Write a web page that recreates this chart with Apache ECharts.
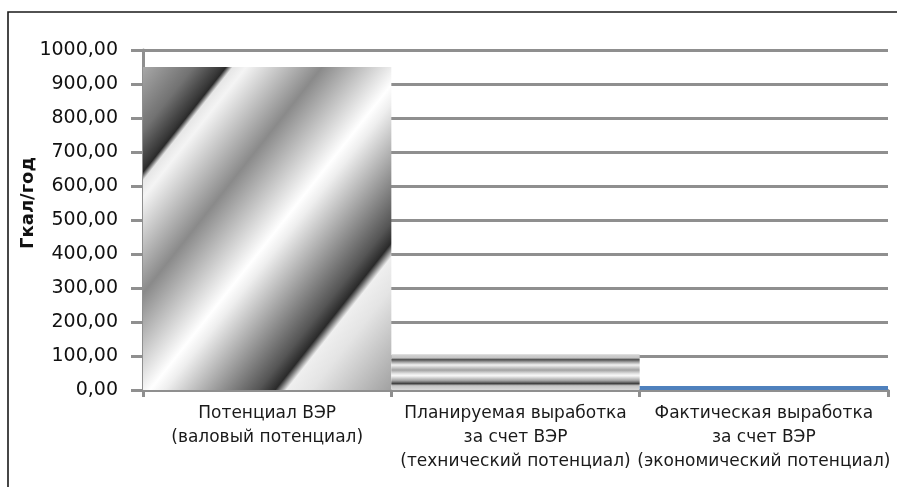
<!DOCTYPE html>
<html>
<head>
<meta charset="utf-8">
<script src="https://cdn.jsdelivr.net/npm/echarts@6/dist/echarts.min.js"></script>
<style>
html,body{margin:0;padding:0;background:#fff;}
#chart{width:897px;height:487px;}
</style>
</head>
<body>
<div id="chart"></div>
<script>
// ---- data ----
const categories = [
  'Потенциал ВЭР\n(валовый потенциал)',
  'Планируемая выработка\nза счет ВЭР\n(технический потенциал)',
  'Фактическая выработка\nза счет ВЭР\n(экономический потенциал)'
];
const values = [950, 105, 12];
const yAxisName = 'Гкал/год';
const yMin = 0, yMax = 1000, yStep = 100;

// ---- styles ----
const chromeDiag = new echarts.graphic.LinearGradient(0, 0, 1.25, 0.76, [
  {offset: 0.00, color: '#a8a8a8'},
  {offset: 0.10, color: '#727272'},
  {offset: 0.155, color: '#383838'},
  {offset: 0.165, color: '#2a2a2a'},
  {offset: 0.178, color: '#e6e6e6'},
  {offset: 0.205, color: '#f4f4f4'},
  {offset: 0.355, color: '#8a8a8a'},
  {offset: 0.52, color: '#ffffff'},
  {offset: 0.55, color: '#eeeeee'},
  {offset: 0.735, color: '#555555'},
  {offset: 0.768, color: '#2a2a2a'},
  {offset: 0.79, color: '#efefef'},
  {offset: 0.84, color: '#e4e4e4'},
  {offset: 1.00, color: '#a0a0a0'}
]);
const chromeHoriz = new echarts.graphic.LinearGradient(0, 0, 0, 1, [
  {offset: 0.00, color: '#d4d4d4'},
  {offset: 0.10, color: '#c4c4c4'},
  {offset: 0.15, color: '#4e4e4e'},
  {offset: 0.21, color: '#9a9a9a'},
  {offset: 0.30, color: '#f2f2f2'},
  {offset: 0.44, color: '#a2a2a2'},
  {offset: 0.55, color: '#e8e8e8'},
  {offset: 0.60, color: '#f8f8f8'},
  {offset: 0.74, color: '#a0a0a0'},
  {offset: 0.82, color: '#404040'},
  {offset: 0.88, color: '#c4c4c4'},
  {offset: 1.00, color: '#dadada'}
]);
const fills = [chromeDiag, chromeHoriz, '#4f81bd'];
const gridColor = '#8f8f8f';
const font = 'DejaVu Sans';

const chart = echarts.init(document.getElementById('chart'), null, {renderer: 'canvas'});
chart.setOption({
  animation: false,
  backgroundColor: '#fff',
  grid: {left: 143, right: 9, top: 50, bottom: 97, containLabel: false, outerBoundsMode: 'none'},
  xAxis: {
    type: 'category',
    data: categories,
    axisLine: {show: true, lineStyle: {color: gridColor, width: 3}},
    axisTick: {show: true, length: 7, lineStyle: {color: gridColor, width: 3}, alignWithLabel: false},
    axisLabel: {
      interval: 0, margin: 12, color: '#1a1a1a', fontFamily: font, fontSize: 17,
      lineHeight: 24, align: 'center'
    },
    splitLine: {show: false}
  },
  yAxis: {
    type: 'value',
    min: yMin, max: yMax, interval: yStep,
    axisLine: {show: true, lineStyle: {color: gridColor, width: 3}},
    axisTick: {show: true, length: 12, lineStyle: {color: gridColor, width: 3}},
    axisLabel: {
      margin: 25, color: '#111', fontFamily: font, fontSize: 19,
      formatter: v => v.toFixed(2).replace('.', ',')
    },
    splitLine: {show: true, lineStyle: {color: gridColor, width: 3}}
  },
  series: [{
    type: 'bar',
    data: values.map((v, i) => ({value: v, itemStyle: {color: fills[i]}})),
    barCategoryGap: '0%',
    barGap: '0%'
  }],
  graphic: [
    {
      type: 'rect', silent: true, z: 100,
      shape: {x: 8, y: 12, width: 3000, height: 3000},
      style: {fill: 'none', stroke: '#1a1a1a', lineWidth: 1.6}
    },
    {
      type: 'text', silent: true,
      x: 28, y: 203, rotation: Math.PI / 2,
      style: {
        text: yAxisName, fill: '#111', font: 'bold 18px "DejaVu Sans"',
        align: 'center', verticalAlign: 'middle'
      }
    }
  ]
});
</script>
</body>
</html>
